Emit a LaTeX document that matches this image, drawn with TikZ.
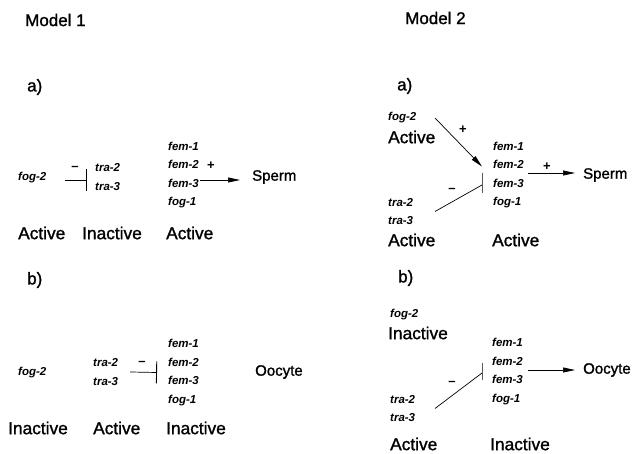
\documentclass[tikz,border=0pt]{standalone}
\usepackage{fontspec}
\setmainfont{Liberation Sans}
\newfontfamily\medfont{Liberation Sans}[FakeBold=1.3]
\usetikzlibrary{arrows.meta}
\begin{document}
\begin{tikzpicture}[x=1pt,y=-1pt,
 gene/.style={font=\fontsize{11.5}{18.5}\selectfont\bfseries\itshape, align=left, inner sep=0pt, anchor=west},
 lab/.style={font=\medfont\fontsize{17.3}{18}\selectfont, inner sep=0pt, anchor=west},
 cell/.style={font=\medfont\fontsize{15}{18}\selectfont, inner sep=0pt, anchor=west},
 ttl/.style={font=\medfont\fontsize{17}{18}\selectfont, inner sep=0pt, anchor=west},
 sign/.style={font=\fontsize{13}{13}\selectfont\bfseries, inner sep=0pt},
 act/.style={line width=0.7pt, -{Triangle[length=12pt,width=5pt]}},
 inh/.style={line width=0.7pt, -{Bar[width=22pt,line width=0.9pt]}},
 plain/.style={line width=0.7pt},
 vbar/.style={draw, line width=0.9pt, minimum width=0pt, minimum height=#1, inner sep=0pt},
]
\useasboundingbox (0,0) rectangle (633,454);

% ---------------- Model 1 ----------------
\node[ttl] (m1) at (25,20) {Model 1};
\node[ttl] (a1) at (27,87) {a)};
\node[gene] (fog1a) at (18,178) {fog-2};
\node[gene] (tra1a) at (95,177) {tra-2\\tra-3};
\node[gene] (fem1a) at (168,175) {fem-1\\fem-2\\fem-3\\fog-1};
\node[cell] (sp1a) at (252,177) {Sperm};
\node[sign] (mi1a) at (75,168) {–};
\node[sign] (pl1a) at (211,166) {+};
\draw[inh] ([xshift=47pt,yshift=-2pt]fog1a.west) -- ([xshift=-8pt,yshift=-3pt]tra1a.west);
\draw[act] ([xshift=32pt,yshift=-5pt]fem1a.west) -- ([xshift=-12pt,yshift=-3pt]sp1a.west);
\node[lab] (l1a1) at (18,233) {Active};
\node[lab] (l1a2) at (82,233) {Inactive};
\node[lab] (l1a3) at (166,233) {Active};

\node[ttl] (b1) at (27,280) {b)};
\node[gene] (fog1b) at (18,373) {fog-2};
\node[gene] (tra1b) at (93,372) {tra-2\\tra-3};
\node[gene] (fem1b) at (168,372.5) {fem-1\\fem-2\\fem-3\\fog-1};
\node[cell] (oo1b) at (255,372) {Oocyte};
\node[sign] (mi1b) at (142,363) {–};
\draw[inh] ([xshift=37pt]tra1b.west) -- ([xshift=-11pt]fem1b.west);
\node[lab] (l1b1) at (8,428) {Inactive};
\node[lab] (l1b2) at (93,428) {Active};
\node[lab] (l1b3) at (166,428) {Inactive};

% ---------------- Model 2 ----------------
\node[ttl] (m2) at (405,18) {Model 2};
\node[ttl] (a2) at (397,86) {a)};
\node[gene] (fog2a) at (388,118) {fog-2};
\node[lab] (l2a0) at (388,137) {Active};
\node[gene] (fem2a) at (493,175) {fem-1\\fem-2\\fem-3\\fog-1};
\node[vbar=20pt] (bar2a) at (482,183) {};
\node[gene] (tra2a) at (388,211.5) {tra-2\\tra-3};
\node[cell] (sp2a) at (583,175) {Sperm};
\node[sign] (pl2a1) at (463,130) {+};
\node[sign] (mi2a) at (452,190) {–};
\node[sign] (pl2a2) at (547,167) {+};
\draw[act] ([xshift=47pt]fog2a.west) -- ([yshift=6pt]bar2a.north);
\draw[plain] ([xshift=47pt]tra2a.west) -- ([yshift=-2pt]bar2a.center);
\draw[act] ([xshift=35pt,yshift=2pt]fem2a.west) -- ([xshift=-8pt,yshift=2pt]sp2a.west);
\node[lab] (l2a1) at (388,240) {Active};
\node[lab] (l2a2) at (492,240) {Active};

\node[ttl] (b2) at (398,278) {b)};
\node[gene] (fog2b) at (390,315) {fog-2};
\node[lab] (l2b0) at (388,333) {Inactive};
\node[gene] (fem2b) at (492,371.5) {fem-1\\fem-2\\fem-3\\fog-1};
\node[vbar=17pt] (bar2b) at (482,371.5) {};
\node[gene] (tra2b) at (390,408.5) {tra-2\\tra-3};
\node[cell] (oo2b) at (583,370) {Oocyte};
\node[sign] (mi2b) at (452,383) {–};
\draw[plain] ([xshift=45pt]tra2b.west) -- ([yshift=-1.5pt]bar2b.center);
\draw[act] ([xshift=36pt,yshift=1.5pt]fem2b.west) -- ([xshift=-8pt]oo2b.west);
\node[lab] (l2b1) at (390,444) {Active};
\node[lab] (l2b2) at (490,444) {Inactive};
\end{tikzpicture}
\end{document}
